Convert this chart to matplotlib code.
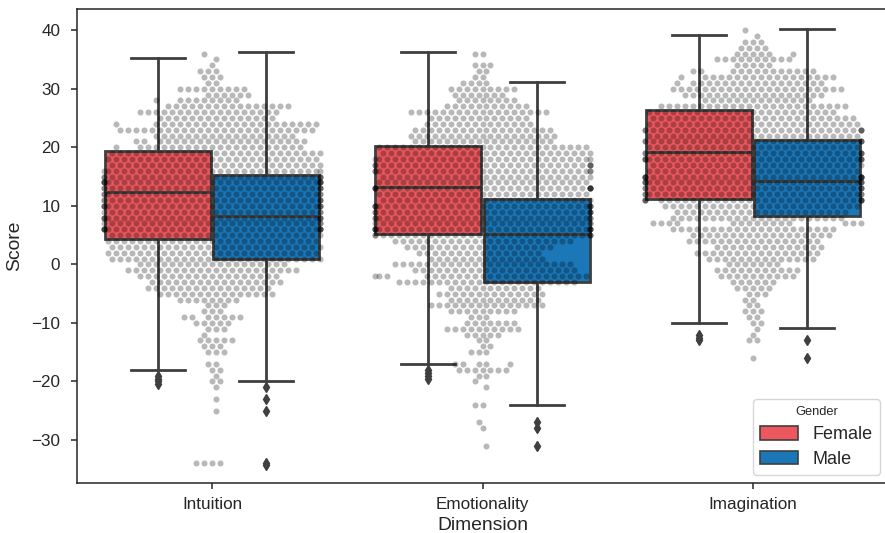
import matplotlib
matplotlib.use('Agg')
import matplotlib.pyplot as plt
from matplotlib.patches import Patch

plt.rcParams['font.family'] = ['Liberation Sans', 'DejaVu Sans']

dimensions = ['Intuition', 'Emotionality', 'Imagination']
genders = ['Female', 'Male']
gender_colors = ['#ec585e', '#1b77b7']
y_ticks = [-30, -20, -10, 0, 10, 20, 30, 40]

# box stats: q1, median, q3, whisker low, whisker high
female_boxes = [(4.3, 12.4, 19.3, -18, 35.2), (5.2, 13.3, 20.2, -17, 36.2), (11.2, 19.2, 26.3, -10, 39.2)]
male_boxes = [(1, 8.2, 15.2, -20, 36.2), (-3, 5.2, 11.2, -24, 31.2), (8.3, 14.3, 21.2, -10.8, 40.2)]
female_fliers = [[-19, -19.5, -20, -20.5], [-18, -18.5, -19, -19.5], [-12, -12.5, -13]]
male_fliers = [[-21, -23, -25, -34, -34.3], [-27, -28, -31], [-13, -16]]

# swarm rows: (score, dots left of centre, dots right of centre), a score can take several runs
intuition_rows = [(36, 1, -1), (35, 0, 0), (34, 0, 0), (33, 2, 0), (32, 1, 1), (31, 1, 0), (30, 4, 4), (29, 1, 4),
                  (28, 7, -7), (28, 4, 3), (27, 6, 9), (26, 9, 8), (25, 7, 7), (24, 12, -12), (24, 7, 11), (24, -12, 13),
                  (23, 12, 12), (22, 7, 10), (21, 10, -9), (21, 7, 11), (20, 12, -12), (20, 9, 11), (19, 13, 13),
                  (18, 13, 13), (17, 13, 13), (16, 13, 13), (15, 13, 13), (14, 13, 13),
                  (13, 13, 13), (12, 13, 13), (11, 13, 13), (10, 13, 13), (9, 13, 13), (8, 13, 13), (7, 13, 13),
                  (6, 13, 13), (5, 13, 13), (4, 13, 13), (3, 13, 13), (2, 13, 13), (1, 13, 13), (0, 9, 9), (-1, 11, 10),
                  (-2, 9, 8), (-3, 8, 8), (-4, 8, 7), (-5, 7, 7), (-6, 4, 3), (-7, 1, 1), (-8, 1, 1), (-9, 4, -3), (-9, 1, 3),
                  (-10, 2, 2), (-11, 1, 1), (-12, 1, -1), (-13, 2, 2), (-14, 1, 1), (-15, 1, 1), (-17, 1, 0), (-18, 0, 1),
                  (-19, 0, 0), (-20, 0, 1), (-21, 0, 0), (-23, 0, 0), (-25, 0, 0), (-34, 2, 1)]
emotionality_rows = [(36, 1, 0), (34, 1, 1), (33, 1, 0), (32, 1, 0), (31, 3, 0), (30, 4, 4), (29, 4, 2), (28, 3, 4),
                     (27, 5, 5), (26, 9, -8), (26, 7, 8), (25, 7, 5), (24, 7, 6), (23, 9, 8), (22, 9, 9), (21, 9, 8),
                     (20, 13, 13), (19, 13, 13), (18, 13, 13), (17, 13, 13), (16, 13, 13), (15, 13, 13), (14, 13, 13),
                     (13, 13, 13), (12, 13, 13), (11, 13, 13), (10, 13, 13), (9, 13, 13), (8, 13, 13), (7, 13, 13),
                     (6, 13, 13), (5, 13, 13), (4, 11, 11), (3, 10, 8), (2, 8, 7), (1, 7, 7), (0, 11, 11), (-1, 9, 11),
                     (-2, 14, -12), (-2, 7, 13), (-3, 11, 11), (-4, 4, 7), (-5, 6, 7), (-6, 4, 7), (-7, 7, 7), (-8, 4, 4),
                     (-9, 2, 0), (-10, 2, 4), (-11, 5, 4), (-12, 2, 2), (-13, 1, 0), (-14, 0, 1), (-15, 2, 0),
                     (-17, 4, -3), (-17, 1, 0), (-17, -3, 3), (-18, 3, 3), (-19, 1, 0),
                     (-20, 1, -1), (-21, 0, 0), (-24, 1, 0), (-27, 1, -1), (-28, 0, 0), (-31, 0, 0)]
imagination_rows = [(40, 1, -1), (39, 0, 0), (38, 1, 1), (37, 2, 1), (36, 2, 2), (36, -5, 5), (35, 5, 4), (34, 2, 2),
                    (33, 8, -7), (33, 3, 7), (32, 9, -9), (32, 6, 10), (31, 10, -10), (31, 8, 8), (30, 10, 11), (29, 9, 8),
                    (28, 6, 7), (27, 12, 11), (26, 13, 10), (25, 13, 12),
                    (24, 13, 13), (23, 13, 13), (22, 13, 13), (21, 13, 13), (20, 13, 13), (19, 13, 13), (18, 13, 13),
                    (17, 13, 13), (16, 13, 13), (15, 13, 13), (14, 13, 13), (13, 13, 13), (12, 13, 13), (11, 12, 13),
                    (10, 11, 13), (9, 10, 11), (8, 10, 11), (7, 13, -10), (7, 3, 4), (7, -11, 13), (6, 10, 10), (5, 8, 9),
                    (4, 8, 8), (3, 5, 8), (2, 7, 8), (1, 6, 7), (0, 3, 3), (-1, 5, 5), (-2, 4, 5), (-3, 3, 2), (-4, 2, 2),
                    (-5, 1, 1), (-6, 1, 0), (-7, 1, 0), (-8, 1, 1), (-9, 1, 0), (-10, 0, 1), (-11, 0, 0), (-12, 0, 0),
                    (-13, 1, 0), (-16, 0, 0)]
swarm_rows = [intuition_rows, emotionality_rows, imagination_rows]

# extra dots piled up at the two edges of each swarm, one entry per dot
intuition_pile = [16, 15, 15, 14, 14, 14, 14, 13, 13, 12, 12, 11, 11, 10, 10, 10, 9, 8, 8, 8, 7, 6, 6, 6, 6]
emotionality_pile = [18, 17, 17, 16, 16, 13, 13, 13, 13, 10, 10, 10, 9, 9, 8, 8, 7, 6, 6, 6, 6, 5, 5]
imagination_pile = [23, 23, 21, 21, 19, 19, 18, 18, 18, 15, 15, 15, 15, 14, 14, 14, 13, 13, 12, 12, 11, 11, 11]
edge_piles = [intuition_pile, emotionality_pile, imagination_pile]

line_color = '#3f3f3f'
text_color = '#262626'
dot_step = 8 / 270.5
edge_cols = 13.5

fig = plt.figure(figsize=(8.85, 5.33), dpi=100)
ax = fig.add_axes([77 / 885, 1 - 483 / 533, 811 / 885, 474 / 533])

for g, (boxes, fliers) in enumerate([(female_boxes, female_fliers), (male_boxes, male_fliers)]):
    stats = []
    for b, fl in zip(boxes, fliers):
        stats.append({'q1': b[0], 'med': b[1], 'q3': b[2], 'whislo': b[3], 'whishi': b[4], 'fliers': fl})
    pos = [i + (g - 0.5) * 0.4 for i in range(3)]
    ax.bxp(stats, positions=pos, widths=0.392, patch_artist=True, capwidths=0.2, manage_ticks=False,
           boxprops=dict(facecolor=gender_colors[g], edgecolor=line_color, linewidth=2),
           medianprops=dict(color=line_color, linewidth=2),
           whiskerprops=dict(color=line_color, linewidth=2),
           capprops=dict(color=line_color, linewidth=2),
           flierprops=dict(marker='d', markerfacecolor=line_color, markeredgecolor=line_color, markersize=5))

for i, rows in enumerate(swarm_rows):
    xs, ys = [], []
    for score, left, right in rows:
        shift = 0.5 if score % 2 else 0
        for k in range(-left, right + 1):
            xs.append(i + min(max(k + shift, -edge_cols), edge_cols) * dot_step)
            ys.append(score)
    for j, score in enumerate(edge_piles[i]):
        xs.append(i - edge_cols * dot_step)
        ys.append(score)
        xs.append(i + edge_cols * dot_step)
        ys.append(score)
    ax.scatter(xs, ys, s=19, c='black', alpha=0.28, linewidths=0, zorder=5)

ax.set_xlim(-0.5, 2.5)
ax.set_ylim(-37.34, 43.62)
ax.set_xticks(range(3))
ax.set_xticklabels(dimensions)
ax.set_yticks(y_ticks)
ax.tick_params(axis='both', labelsize=12.3, colors=text_color, length=4, width=1.1, pad=6)
ax.tick_params(axis='y', pad=8)
ax.set_xlabel('Dimension', fontsize=13.9, color=text_color, labelpad=4)
ax.set_ylabel('Score', fontsize=13.9, color=text_color, labelpad=6)
for s in ax.spines.values():
    s.set_color(text_color)
    s.set_linewidth(1.1)

handles = [Patch(facecolor=gender_colors[n], edgecolor=line_color, linewidth=1.2, label=genders[n]) for n in range(2)]
leg = ax.legend(handles=handles, title='Gender', loc='lower right', bbox_to_anchor=((880 - 77) / 811, (483 - 475) / 474),
                borderaxespad=0, fontsize=13, title_fontsize=9.3, handlelength=2.1, handleheight=0.8,
                handletextpad=0.8, labelspacing=0.42, framealpha=0.8, borderpad=0.4)
leg.set_zorder(10)
for t in leg.get_texts():
    t.set_color(text_color)
leg.get_title().set_color(text_color)

fig.savefig('out.png', dpi=100)
